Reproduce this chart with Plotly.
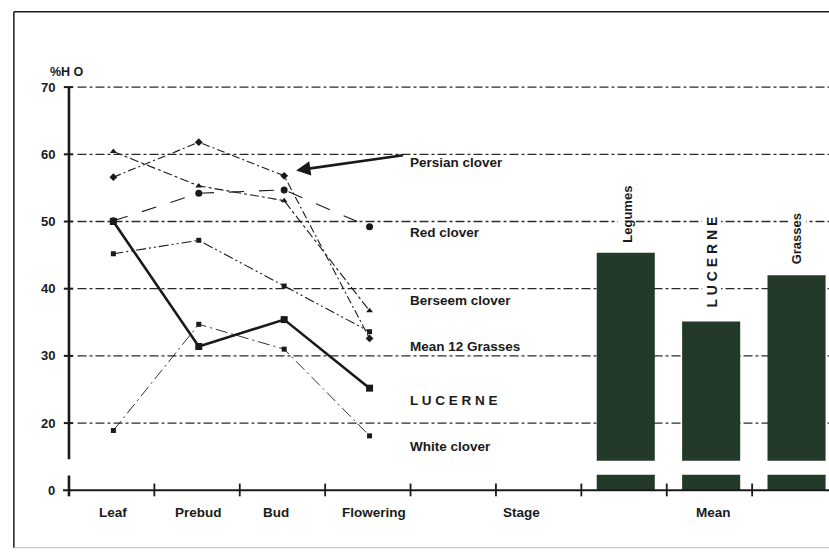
import plotly.graph_objects as go

# growth stages and %H O values
stages = ["Leaf", "Prebud", "Bud", "Flowering"]
persian_clover = [56.6, 61.8, 56.8, 32.6]
red_clover = [50.1, 54.2, 54.7, 49.2]
berseem_clover = [60.4, 55.3, 53.1, 36.7]
mean_12_grasses = [45.2, 47.2, 40.4, 33.6]
white_clover = [18.9, 34.7, 31.0, 18.1]
lucerne = [50.0, 31.4, 35.4, 25.2]

mean_groups = ["Legumes", "L U C E R N E", "Grasses"]
mean_values = [45.35, 35.1, 42.0]

y_ticks = [70, 60, 50, 40, 30, 20]
y_ticktext = ["70", "60", "50", "40", "30", "20"]

FONT = "Liberation Sans, Arial, sans-serif"
INK = "#1a1a1a"
BAR = "#233a2b"

# the y axis is broken below 20: "0" sits where 10 would be
ZERO = 10
BREAK_LOW = 12.3
BREAK_HIGH = 14.4
Y_RANGE = [9, 71.95]


def ypaper(v):
    return (v - Y_RANGE[0]) / (Y_RANGE[1] - Y_RANGE[0])


xs = [i + 0.52 for i in range(len(stages))]
bar_x = [i + 6.52 for i in range(len(mean_groups))]

fig = go.Figure()

series = [
    (persian_clover, "Persian clover", "diamond", 6, "8px,3px,2px,3px", 1.1),
    (red_clover, "Red clover", "circle", 7, "longdash", 1.1),
    (berseem_clover, "Berseem clover", "triangle-up", 6, "dashdot", 1.1),
    (mean_12_grasses, "Mean 12 Grasses", "square", 5, "10px,3px,2px,3px,2px,3px", 1.1),
    (white_clover, "White clover", "square", 5, "12px,4px,2px,4px", 0.9),
]
for vals, name, sym, size, dash, w in series:
    fig.add_trace(go.Scatter(
        x=xs, y=vals, name=name, mode="lines+markers",
        line=dict(color=INK, width=w, dash=dash),
        marker=dict(symbol=sym, size=size, color=INK),
        cliponaxis=False,
    ))

fig.add_trace(go.Scatter(
    x=xs, y=lucerne, name="LUCERNE", mode="lines+markers",
    line=dict(color=INK, width=2.6),
    marker=dict(symbol="square", size=7, color=INK),
))

# broken bars: main body plus the little stub above zero
fig.add_trace(go.Bar(
    x=bar_x, y=[v - BREAK_HIGH for v in mean_values], base=BREAK_HIGH,
    width=0.68, marker=dict(color=BAR, line=dict(width=0)),
))
fig.add_trace(go.Bar(
    x=bar_x, y=[BREAK_LOW - ZERO] * len(bar_x), base=ZERO,
    width=0.68, marker=dict(color=BAR, line=dict(width=0)),
))

shapes = []
for t in y_ticks:
    shapes.append(dict(type="line", xref="x", yref="y", x0=0.1, x1=8.95, y0=t, y1=t,
                       line=dict(color="#2a2a2a", width=1.3, dash="dashdot"), layer="below"))
    shapes.append(dict(type="line", xref="x", yref="y", x0=-0.06, x1=0.05, y0=t, y1=t,
                       line=dict(color=INK, width=2)))
# y axis with break
shapes.append(dict(type="line", xref="x", yref="y", x0=0, x1=0, y0=70, y1=14.6,
                   line=dict(color=INK, width=2.6)))
shapes.append(dict(type="line", xref="x", yref="y", x0=0, x1=0, y0=12.2, y1=9.1,
                   line=dict(color=INK, width=2.6)))
# x axis
shapes.append(dict(type="line", xref="x", yref="y", x0=-0.07, x1=8.95, y0=ZERO, y1=ZERO,
                   line=dict(color=INK, width=2)))
for i in range(1, 9):
    shapes.append(dict(type="line", xref="x", yref="y", x0=i, x1=i, y0=9.1, y1=11,
                       line=dict(color=INK, width=1.8)))
# outer page frame
shapes.append(dict(type="line", xref="paper", yref="paper", x0=-0.06, x1=-0.06, y0=1.147, y1=-0.12,
                   line=dict(color=INK, width=1.5)))
shapes.append(dict(type="line", xref="paper", yref="paper", x0=-0.06, x1=1.01, y0=1.147, y1=1.147,
                   line=dict(color=INK, width=1.5)))
shapes.append(dict(type="line", xref="paper", yref="paper", x0=-0.06, x1=1.01, y0=-0.12, y1=-0.12,
                   line=dict(color="#bbbbbb", width=1)))

bold = dict(family=FONT, size=12, color=INK, weight="bold")
ann = []
for t, txt in zip(y_ticks + [ZERO], y_ticktext + ["0"]):
    ann.append(dict(x=-0.004, xref="paper", y=t, yref="y", text=txt, showarrow=False,
                    xanchor="right", font=dict(bold, size=13)))
ann.append(dict(x=-0.016, xref="paper", y=ypaper(72.3), yref="paper", text="%H O",
                showarrow=False, xanchor="left", yanchor="middle", font=dict(bold, size=12.5)))

cat_labels = stages + ["Stage", "Mean"]
cat_x = [0.52, 1.52, 2.42, 3.57, 5.3, 7.55]
for txt, x in zip(cat_labels, cat_x):
    ann.append(dict(x=x, y=ypaper(6.75), xref="x", yref="paper", text=txt,
                    showarrow=False, yanchor="middle", font=dict(bold, size=13.5)))

side_labels = ["Persian clover", "Red clover", "Berseem clover", "Mean 12 Grasses",
               "L U C E R N E", "White clover"]
side_y = [58.8, 48.4, 38.3, 31.4, 23.3, 16.5]
for txt, y in zip(side_labels, side_y):
    ann.append(dict(x=3.97, y=y, xref="x", yref="y", text=txt, showarrow=False,
                    xanchor="left", font=dict(bold, size=13.5)))

rot_y = [51.1, 43.9, 47.4]
rot_size = [13, 14, 13]
for txt, x, y, s in zip(mean_groups, bar_x, rot_y, rot_size):
    ann.append(dict(x=x + 0.01, y=y, xref="x", yref="y", text=txt, showarrow=False,
                    textangle=-90, bgcolor="white", font=dict(bold, size=s)))

# arrow pointing at the Persian clover bud value
ann.append(dict(x=2.66, y=57.6, xref="x", yref="y", ax=3.93, ay=59.9, axref="x", ayref="y",
                text="", showarrow=True, arrowhead=2, arrowsize=1.1, arrowwidth=2.6,
                arrowcolor=INK))

fig.update_layout(
    width=829, height=555,
    margin=dict(l=60, r=0, t=74, b=58),
    paper_bgcolor="white", plot_bgcolor="white",
    showlegend=False, barmode="overlay",
    xaxis=dict(range=[-0.105, 8.9], visible=False),
    yaxis=dict(range=Y_RANGE, visible=False),
    shapes=shapes, annotations=ann,
)

fig.write_html("out.html", config={"displayModeBar": False},
               post_script="document.body.style.margin='0';")
